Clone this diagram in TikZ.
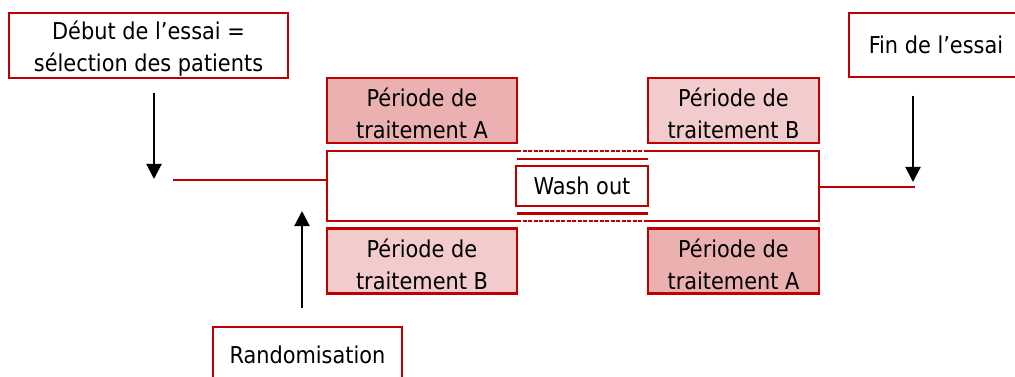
\documentclass[tikz,border=0pt]{standalone}
\usepackage{fontspec}
\setmainfont{DejaVu Sans Condensed}
\usetikzlibrary{arrows.meta}
\definecolor{frame}{HTML}{C00000}
\definecolor{periodA}{HTML}{EBB1B1}
\definecolor{periodB}{HTML}{F2CBCC}
% taller first line, so that two-line labels sit a little lower in their boxes
\newcommand{\firstlinestrut}{\rule{0pt}{25pt}}
\tikzset{
  label/.style={font=\fontsize{23.2}{32}\selectfont, align=center, text=black},
  redbox/.style={label, draw=frame, line width=2.4pt, inner sep=0pt},
  periodbox/.style={redbox, minimum height=65pt},
  pointer/.style={draw=black, line width=2pt, -{Triangle[width=15pt,length=15pt]}},
  link/.style={draw=frame, line width=1.7pt},
  rail/.style={draw=frame, line width=2.4pt},
  gap/.style={draw=frame, line width=2.2pt, dash pattern=on 4pt off 1.5pt}
}
\begin{document}
\begin{tikzpicture}[x=1pt,y=-1pt]
  \useasboundingbox (0,0) rectangle (1015,377);
  \clip (0,0) rectangle (1015,377);

  % start / end / randomisation labels
  \node[redbox, minimum width=279pt, minimum height=65pt] (debut) at (148.5,45.5)
    {\firstlinestrut Début de l’essai =\\sélection des patients};
  \node[redbox, minimum width=174pt, minimum height=64pt] (fin) at (936,45)
    {Fin de l’essai};
  \node[redbox, minimum width=189pt, minimum height=56pt] (rando) at (307.5,355)
    {Randomisation};

  % treatment periods
  \node[periodbox, fill=periodA, minimum width=190pt] (pA1) at (422,110.5)
    {\firstlinestrut Période de\\traitement A};
  \node[periodbox, fill=periodB, minimum width=171pt] (pB1) at (733.5,110.5)
    {\firstlinestrut Période de\\traitement B};
  \node[periodbox, fill=periodB, minimum width=190pt] (pB2) at (422,261)
    {\firstlinestrut Période de\\traitement B};
  \node[periodbox, fill=periodA, minimum width=171pt] (pA2) at (733.5,261)
    {\firstlinestrut Période de\\traitement A};

  % central track with the wash-out window
  \draw[rail] (517,151) -| (327,221) -- (517,221);
  \draw[rail] (648,151) -| (819,221) -- (648,221);
  \draw[gap] (517,151) -- (648,151);
  \draw[gap] (517,221) -- (648,221);
  \draw[rail] (517,159) -- (648,159);
  \draw[rail] (517,213.5) -- (648,213.5);
  \node[redbox, minimum width=132pt, minimum height=40pt] (wash) at (582,186) {Wash out};

  % connectors
  \coordinate (startTail) at (154,93);
  \coordinate (startTip) at (154,179);
  \coordinate (startLine) at (173,180);
  \coordinate (trackIn) at (327,180);
  \coordinate (trackOut) at (819,187);
  \coordinate (endLine) at (915,187);
  \coordinate (endTail) at (913,96);
  \coordinate (endTip) at (913,182);
  \coordinate (randTail) at (302,308);
  \coordinate (randTip) at (302,211);

  \draw[pointer] (startTail) -- (startTip);
  \draw[link] (startLine) -- (trackIn);
  \draw[link] (trackOut) -- (endLine);
  \draw[pointer] (endTail) -- (endTip);
  \draw[pointer] (randTail) -- (randTip);
\end{tikzpicture}
\end{document}
